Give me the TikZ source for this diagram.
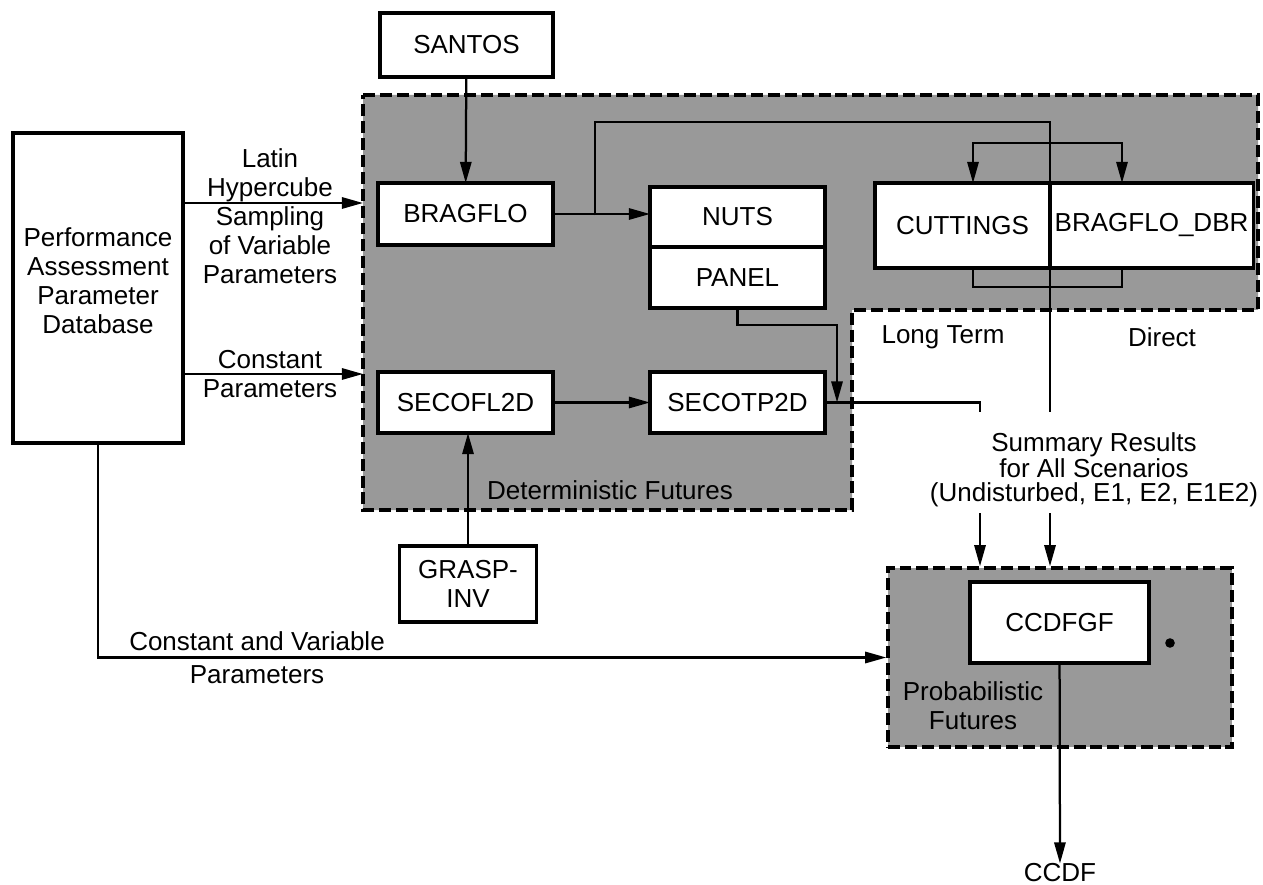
\documentclass[tikz,border=0pt]{standalone}
\usepackage{fontspec}
\setmainfont{Liberation Sans}
\usetikzlibrary{arrows.meta, positioning, calc}

\begin{document}
\begin{tikzpicture}[
    x=0.025cm, y=-0.025cm,
    font=\fontsize{18.5}{20.6}\selectfont,
    box/.style={draw, line width=2.2pt, fill=white, outer sep=0pt, inner sep=0pt, align=center},
    region/.style={draw, fill=black!40, line width=2.4pt, dash pattern=on 8.5pt off 3.5pt},
    lbl/.style={align=center, inner sep=0pt},
    line/.style={line width=1.6pt},
    arr/.style={line, -{Triangle[length=15pt, width=8pt]}},
]
\useasboundingbox (0,0) rectangle (1263,885);

% shaded regions
\draw[region] (363,95) -- (1258,95) -- (1258,310) -- (852,310) -- (852,510) -- (363,510) -- cycle;
\node[region, minimum width=8.6cm, minimum height=4.475cm] (prob) at (1060,657.5) {};

% boxes
\node[box, minimum width=4.325cm, minimum height=1.6cm] (santos) at (466.5,45) {SANTOS};
\node[box, minimum width=4.25cm, minimum height=7.75cm] (perf) at (98,288) {Performance\\Assessment\\Parameter\\Database\\[-10pt]\mbox{}};
\node[box, minimum width=4.375cm, minimum height=1.55cm] (bragflo) at (465.5,214) {BRAGFLO};
\node[box, minimum width=4.375cm, minimum height=1.5cm] (nuts) at (737.5,217) {NUTS};
\node[box, minimum width=4.375cm, minimum height=1.525cm, below=0pt of nuts] (panel) {PANEL};
\node[box, minimum width=4.375cm, minimum height=2.125cm] (cuttings) at (962.5,225.5) {CUTTINGS};
\node[box, minimum width=5.075cm, minimum height=2.125cm, right=0pt of cuttings] (dbr) {BRAGFLO\_DBR};
\node[box, minimum width=4.375cm, minimum height=1.525cm] (secofl) at (465.5,402.5) {SECOFL2D};
\node[box, minimum width=4.375cm, minimum height=1.525cm] (secotp) at (737.5,402.5) {SECOTP2D};
\node[box, minimum width=3.425cm, minimum height=1.9cm] (grasp) at (468,584) {GRASP-\\INV};
\node[box, minimum width=4.475cm, minimum height=2.025cm] (ccdfgf) at (1059.5,622.5) {CCDFGF};

% labels
\node[lbl] (latin) at (270,216) {Latin\\Hypercube\\Sampling\\of Variable\\Parameters};
\node[lbl] (constp) at (270,374) {Constant\\Parameters};
\node[lbl] (cvp) at (257,658) {Constant and Variable\\[3pt]Parameters};
\node[lbl] (longterm) at (943,337) {Long Term};
\node[lbl] (direct) at (1162,337) {Direct};
\node[lbl, font=\fontsize{18.5}{17}\selectfont] (summary) at (1094,470) {Summary Results\\for All Scenarios\\(Undisturbed, E1, E2, E1E2)};
\node[lbl] (detf) at (610,490) {Deterministic Futures};
\node[lbl] (probf) at (973,706) {Probabilistic\\Futures};
\node[lbl] (ccdf) at (1060,873) {CCDF};

% connector points
\coordinate (latinin) at (363,203);
\coordinate (constin) at (363,374);
\coordinate (bus) at (1050,122);
\coordinate (fork) at (1050,143);
\coordinate (cutin) at (973,183);
\coordinate (dbrin) at (1122,183);
\coordinate (sumtl) at (980,412);
\coordinate (sumtr) at (1050,412);
\coordinate (sumbl) at (980,513);
\coordinate (sumbr) at (1050,513);
\coordinate (jn) at ($(bragflo.east)!0.43!(nuts.west)$);

% connectors
\draw[arr] (perf.east |- latinin) -- (latinin);
\draw[arr] (perf.east |- constin) -- (constin);
\draw[arr] (santos) -- (bragflo);
\draw[arr] (grasp.north) -- (grasp.north |- secofl.south);
\draw[arr] (bragflo.east) -- (bragflo.east -| nuts.west);
\draw[line] (jn) |- (bus) -- (fork);
\draw[arr] (fork) -| (cutin);
\draw[arr] (fork) -| (dbrin);
\draw[line] (cutin |- cuttings.south) -- ++(0,19) -| (dbrin |- dbr.south);
\draw[line] (bus) -- (sumtr);
\draw[arr] (panel.south) -- ++(0,17) -| ($(secotp.east)+(12,0)$);
\draw[line] (secotp.east) -| (sumtl);
\draw[arr] (sumbl) -- (sumbl |- prob.north);
\draw[arr] (sumbr) -- (sumbr |- prob.north);
\draw[arr] (secofl) -- (secotp);
\draw[arr] (perf.south) |- (prob.west);
\draw[arr] (ccdfgf) -- (ccdf);
\fill (1170,643) circle[radius=0.12cm];
\end{tikzpicture}
\end{document}
